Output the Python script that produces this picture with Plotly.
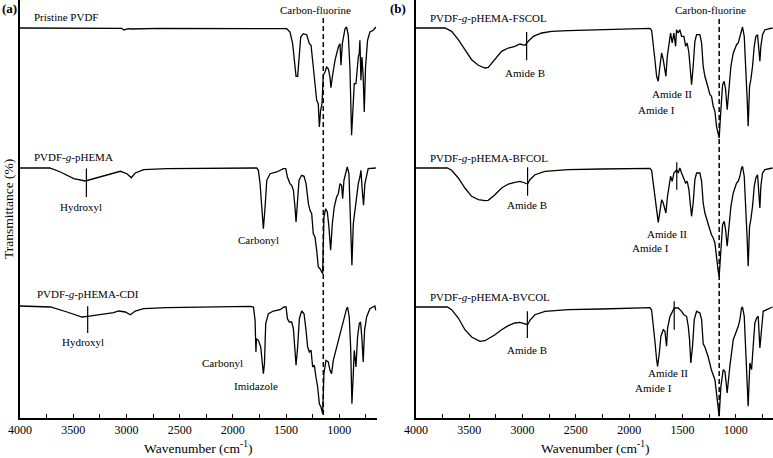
import plotly.graph_objects as go

# ---------------- data (wavenumber cm-1, relative transmittance %) ----------------
pristine_wn = [4000, 3600, 3100, 3042, 3025, 3010, 2979, 2950, 2700, 1494, 1463, 1438, 1415, 1406, 1391, 1378,
               1362, 1337, 1306, 1281, 1265, 1244, 1228, 1212, 1197, 1187, 1175, 1162, 1150, 1134, 1119, 1103,
               1087, 1078, 1065, 1040, 1009, 993, 984, 971, 946, 931, 915, 900, 884, 868, 859, 843, 831, 821,
               812, 806, 796, 787, 775, 765, 753, 734, 712, 681, 656]
pristine_t = [100, 100, 99.7, 99.7, 98, 98.3, 99.3, 99, 99.7, 99.3, 96, 84.3, 61, 51.7, 51.7, 71,
              91, 94.3, 93.3, 84.3, 82.7, 61, 41, 27.7, 24.3, 1, 17.7, 24.3, 52.7, 56, 61, 59.3,
              51, 40.3, 51, 67.7, 81, 84.3, 62.7, 84.3, 99.3, 101, 92.7, 61, -7.3, 37.7, 44.3, 44.3, 61, 71,
              74.3, 87.7, 47.7, 71, 51, 16, 61, 87.7, 96, 97.7, 101]

phema_wn = [4000, 3720, 3620, 3495, 3386, 3245, 3120, 3057, 2995, 2954, 2917, 2838, 2620, 1775, 1760, 1744,
            1728, 1713, 1697, 1681, 1650, 1588, 1525, 1503, 1487, 1463, 1447, 1431, 1416, 1406, 1394, 1378,
            1353, 1331, 1312, 1290, 1275, 1259, 1244, 1228, 1212, 1197, 1181, 1166, 1156, 1144, 1128, 1112,
            1097, 1081, 1065, 1047, 1025, 1009, 993, 978, 968, 956, 940, 925, 909, 893, 881, 868, 853, 837,
            821, 806, 796, 784, 772, 759, 743, 728, 656]
phema_t = [100, 100, 96, 89.3, 87, 91, 95.3, 96.7, 94.3, 90.3, 95, 98.3, 99.3, 100, 97.7, 84.3,
           61, 39.3, 61, 87.7, 94.3, 96, 99.3, 99.3, 91, 84.3, 82.7, 77.7, 61, 46, 64.3, 87.7,
           92.7, 91.7, 84.3, 64.3, 57.7, 54.3, 34.3, 31, 17.7, 1, -0.7, -4, -5.7, 51, 59.3, 56,
           41, 17.7, 44.3, 61, 71, 74.3, 84.3, 82.7, 69.3, 87.7, 94.3, 101, 94.3, 44.3, 2.7, 44.3, 57.7, 67.7,
           84.3, 91, 97.7, 77.7, 62.7, 84.3, 94.3, 99.3, 100]

cdi_wn = [4000, 3714, 3558, 3417, 3364, 3245, 3120, 3073, 3010, 2963, 2917, 2838, 2620, 1838, 1806, 1791,
          1783, 1778, 1760, 1738, 1728, 1713, 1703, 1691, 1666, 1619, 1556, 1519, 1500, 1487, 1469, 1447,
          1431, 1416, 1406, 1391, 1375, 1353, 1331, 1312, 1297, 1281, 1265, 1250, 1234, 1219, 1203, 1187,
          1172, 1156, 1144, 1125, 1103, 1087, 1072, 1056, 1025, 993, 962, 931, 922, 906, 893, 881, 868,
          859, 843, 828, 812, 800, 787, 775, 762, 743, 712, 665, 656]
cdi_t = [100, 99, 94, 89, 89.7, 91.3, 93.3, 95, 94, 91.3, 95, 97.3, 98.3, 99.7, 99, 85.7,
         54, 67.3, 65.7, 59, 49, 32.3, 42.3, 82.3, 92.3, 95, 96.3, 99, 99, 87.3, 84, 84,
         77.3, 52.3, 40.7, 59, 87.3, 95, 92.3, 75.7, 59, 54, 55.7, 39, 40.7, 29, 19, 2.3,
         -1, -7.7, 32.3, 45.7, 44, 35.7, 32.3, 45.7, 59, 72.3, 84, 97.3, 99, 89, 59, 2.3, 32.3,
         55.7, 39, 69, 82.3, 84, 67.3, 44, 75.7, 89, 97.3, 100, 95.7]

fscol_wn = [4000, 3728, 3666, 3603, 3541, 3478, 3415, 3353, 3322, 3259, 3197, 3134, 3072, 3025, 2978, 2946,
            2899, 2821, 2727, 2571, 2258, 1805, 1789, 1774, 1758, 1742, 1727, 1711, 1695, 1680, 1664, 1655,
            1642, 1627, 1611, 1596, 1580, 1564, 1555, 1539, 1524, 1508, 1486, 1470, 1455, 1439, 1424, 1414,
            1399, 1383, 1367, 1336, 1320, 1305, 1289, 1273, 1258, 1242, 1227, 1211, 1195, 1180, 1164, 1155,
            1139, 1123, 1108, 1095, 1080, 1064, 1045, 1023, 992, 976, 961, 945, 936, 920, 905, 892, 883, 870,
            858, 842, 826, 811, 795, 783, 773, 764, 748, 726, 654]
fscol_t = [100, 100, 96.7, 88.3, 78.3, 68.3, 62.7, 60, 60.7, 68.3, 76.7, 80, 81.7, 84, 82.7, 86.7,
           91.7, 95, 96.7, 97.3, 98.3, 99.7, 97.7, 85, 68.3, 51.7, 46.7, 61.7, 75, 68.3, 58.3, 51.7,
           71.7, 85, 95, 85, 95, 81.7, 98.3, 95, 98.3, 91.7, 91.7, 81.7, 85, 75, 58.3, 43.3,
           61.7, 86.7, 93.3, 93.3, 85, 61.7, 51.7, 46.7, 40, 33.3, 31.7, 21.7, 16.7, 1.7, -6.7, -10,
           18.3, 43.3, 46.7, 38.3, 18.3, 41.7, 61.7, 75, 83.3, 85, 91.7, 100, 101, 91.7, 61.7, 28.3, 1.7, 41.7,
           48.3, 61.7, 81.7, 91.7, 93.3, 78.3, 66.7, 81.7, 93.3, 98.3, 100]

bfcol_wn = [4000, 3706, 3666, 3603, 3541, 3478, 3415, 3353, 3322, 3259, 3197, 3134, 3072, 3025, 2978, 2953,
            2931, 2884, 2790, 2571, 2258, 1805, 1789, 1774, 1758, 1742, 1727, 1711, 1695, 1680, 1664, 1655,
            1642, 1627, 1611, 1596, 1580, 1564, 1555, 1539, 1524, 1508, 1486, 1470, 1455, 1439, 1424, 1414,
            1399, 1383, 1367, 1336, 1320, 1305, 1289, 1273, 1258, 1242, 1227, 1211, 1195, 1180, 1164, 1155,
            1139, 1123, 1108, 1095, 1080, 1064, 1045, 1023, 992, 976, 961, 945, 936, 920, 905, 892, 883, 870,
            858, 842, 826, 811, 795, 783, 773, 764, 748, 726, 654]
bfcol_t = [100, 100, 97.7, 90, 80, 71.7, 68.3, 67.3, 67.7, 73.3, 80, 84, 85.7, 86.7, 85, 84,
           88.3, 93.3, 96.7, 98.3, 99, 99.7, 97.7, 85, 68.3, 53.3, 45.7, 56.7, 68.3, 65, 58.3, 55,
           70, 81.7, 91.7, 86.7, 95, 96.7, 98.3, 95, 100, 95, 90, 85, 86.7, 78.3, 61.7, 51.7,
           65, 88.3, 95, 95, 86.7, 65, 55, 50, 45, 38.3, 33.3, 30, 25, 8.3, -3.3, -8.3,
           21.7, 43.3, 46.7, 38.3, 21.7, 41.7, 61.7, 75, 85, 86.7, 91.7, 100, 101.7, 91.7, 61.7, 28.3, 1.7, 41.7,
           48.3, 61.7, 81.7, 90, 93.3, 78.3, 60, 81.7, 95, 98.3, 100]

bvcol_wn = [4000, 3706, 3666, 3603, 3541, 3478, 3400, 3353, 3259, 3197, 3134, 3072, 3025, 2978, 2953, 2931,
            2884, 2790, 2571, 2258, 1805, 1789, 1774, 1758, 1742, 1733, 1718, 1702, 1680, 1664, 1649, 1639,
            1618, 1596, 1577, 1539, 1508, 1486, 1461, 1445, 1433, 1421, 1405, 1389, 1367, 1336, 1320, 1305,
            1289, 1258, 1227, 1195, 1180, 1164, 1155, 1139, 1117, 1101, 1080, 1055, 1023, 976, 961, 945, 936,
            920, 898, 883, 867, 851, 836, 820, 804, 789, 773, 758, 742, 654]
bvcol_t = [100, 100, 97.3, 89, 77.3, 70, 65.7, 66.3, 72.3, 77.3, 81.3, 84, 84.7, 83, 82.3, 86.7,
           92.3, 95.7, 97.3, 98, 99.3, 96.7, 84, 65.7, 47.3, 40.7, 52.7, 70.7, 77.3, 75.7, 60.7, 79,
           90, 95.7, 99, 99, 95.7, 92.3, 90.7, 80.7, 67.3, 44, 60.7, 87.3, 95.7, 94, 87.3, 63.3,
           60, 50, 36.7, 27.3, 10.7, -6, -9.3, 20.7, 37.3, 35.7, 14, 40.7, 67.3, 80.7, 87.3, 99, 100,
           90.7, 44, 0.7, 44, 37.3, 60.7, 84, 89, 90.7, 59, 80.7, 95.7, 100]

# vertical offsets of stacked spectra (transmittance units)
offsets_a = [290, 150, 12]
offsets_b = [290, 150, 11]

# spectrum names
names_a = ["Pristine PVDF", "PVDF-<i>g</i>-pHEMA", "PVDF-<i>g</i>-pHEMA-CDI"]
names_b = ["PVDF-<i>g</i>-pHEMA-FSCOL", "PVDF-<i>g</i>-pHEMA-BFCOL", "PVDF-<i>g</i>-pHEMA-BVCOL"]

# band marker lines: (spectrum index, wavenumber, T top, T bottom)
markers_a = [(1, 3376, 99.4, 71.0), (2, 3364, 99.7, 73.0)]
markers_b = [(0, 2962, 96.0, 67.7), (1, 2953, 100.7, 72.3), (2, 2955, 95.7, 69.0),
             (1, 1553, 105.7, 78.3), (2, 1577, 105.7, 77.3)]

# band labels: (text, wavenumber, plot y)
labels_a = [("Hydroxyl", 3430, 211), ("Carbonyl", 1760, 178),
            ("Hydroxyl", 3407, 76), ("Carbonyl", 2094, 55), ("Imidazole", 1781, 32)]
labels_b = [("Amide B", 2975, 345), ("Amide II", 1601, 324), ("Amide I", 1742, 308),
            ("Amide B", 2959, 213), ("Amide II", 1649, 184), ("Amide I", 1802, 170),
            ("Amide B", 2955, 68), ("Amide II", 1634, 45), ("Amide I", 1771, 30)]

CF_WN_A = 1150
CF_WN_B = 1155
X_RANGE = [4000, 650]
Y_RANGE = [0, 418]

spectra_a = [(pristine_wn, pristine_t), (phema_wn, phema_t), (cdi_wn, cdi_t)]
spectra_b = [(fscol_wn, fscol_t), (bfcol_wn, bfcol_t), (bvcol_wn, bvcol_t)]

FONT = "Liberation Serif, Times New Roman, serif"
LINE = dict(color="black", width=1.3)

fig = go.Figure()

def add_panel(spectra, offsets, markers, xa, ya):
    for (wn, t), off in zip(spectra, offsets):
        fig.add_trace(go.Scatter(x=wn, y=[v + off for v in t], mode="lines", line=LINE,
                                 xaxis=xa, yaxis=ya, hoverinfo="skip"))
    for idx, wn, top, bot in markers:
        off = offsets[idx]
        fig.add_trace(go.Scatter(x=[wn, wn], y=[top + off, bot + off], mode="lines",
                                 line=dict(color="black", width=1.2), xaxis=xa, yaxis=ya,
                                 hoverinfo="skip"))

add_panel(spectra_a, offsets_a, markers_a, "x", "y")
add_panel(spectra_b, offsets_b, markers_b, "x2", "y2")

# carbon-fluorine dashed reference lines
fig.add_trace(go.Scatter(x=[CF_WN_A, CF_WN_A], y=[400, 0], mode="lines", hoverinfo="skip",
                         line=dict(color="black", width=1.5, dash="5px,3px"), xaxis="x", yaxis="y"))
fig.add_trace(go.Scatter(x=[CF_WN_B, CF_WN_B], y=[399, 0], mode="lines", hoverinfo="skip",
                         line=dict(color="black", width=1.5, dash="5px,3px"), xaxis="x2", yaxis="y2"))

ann = []
def txt(text, x, y, xr, yr, size=11, xanchor="center", yanchor="middle", **kw):
    ann.append(dict(text=text, x=x, y=y, xref=xr, yref=yr, showarrow=False, xanchor=xanchor,
                    yanchor=yanchor, font=dict(family=FONT, size=size, color="black"), **kw))

name_pos_a = [(3883, 401), (3883, 261), (3855, 124)]
name_pos_b = [(3885, 400), (3890, 260), (3885, 121)]
for n, (x, y) in zip(names_a, name_pos_a):
    txt(n, x, y, "x", "y", xanchor="left")
for n, (x, y) in zip(names_b, name_pos_b):
    txt(n, x, y, "x2", "y2", xanchor="left")
for t, x, y in labels_a:
    txt(t, x, y, "x", "y")
for t, x, y in labels_b:
    txt(t, x, y, "x2", "y2")
txt("Carbon-fluorine", 1223, 408, "x", "y")
txt("Carbon-fluorine", 1233, 408, "x2", "y2")

# panel letters
txt("<b>(a)</b>", 0, 1, "paper", "paper", size=13, xanchor="right", xshift=-1, yshift=-8)
txt("<b>(b)</b>", 396 / 753, 1, "paper", "paper", size=13, xanchor="right", xshift=-8, yshift=-8)

# axis titles
txt("Transmittance (%)", 0, 0.5, "paper", "paper", size=13.5, xshift=-12, textangle=-90)
txt("Wavenumber (cm<sup>-1</sup>)", 0.5, 0, "x domain", "paper", size=13.5, yanchor="bottom", yshift=-40)
txt("Wavenumber (cm<sup>-1</sup>)", 0.5, 0, "x2 domain", "paper", size=13.5, yanchor="bottom", yshift=-40)

xax = dict(range=X_RANGE, showline=True, linecolor="black", linewidth=1.6, ticks="inside",
           ticklen=4, tickwidth=1.2, tickcolor="black", tick0=0, dtick=500,
           minor=dict(ticks="inside", ticklen=4, tickwidth=1.2, tickcolor="black", dtick=250, tick0=0),
           showgrid=False, zeroline=False, mirror=False,
           tickfont=dict(family=FONT, size=12, color="black"))
yax = dict(range=Y_RANGE, showline=True, linecolor="black", linewidth=1.6, ticks="",
           showticklabels=False, showgrid=False, zeroline=False)

fig.update_layout(
    width=773, height=458,
    margin=dict(l=20, r=0, t=0, b=40),
    paper_bgcolor="white", plot_bgcolor="white",
    showlegend=False,
    hovermode=False,
    xaxis=dict(domain=[0, 356.5 / 753], anchor="y", **xax),
    yaxis=dict(domain=[0, 1], anchor="x", **yax),
    xaxis2=dict(domain=[396 / 753, 1], anchor="y2", **xax),
    yaxis2=dict(domain=[0, 1], anchor="x2", **yax),
    annotations=ann,
)

fig.write_html("out.html", config={"displayModeBar": False},
               post_script="document.body.style.margin='0';document.body.style.overflow='hidden';")
